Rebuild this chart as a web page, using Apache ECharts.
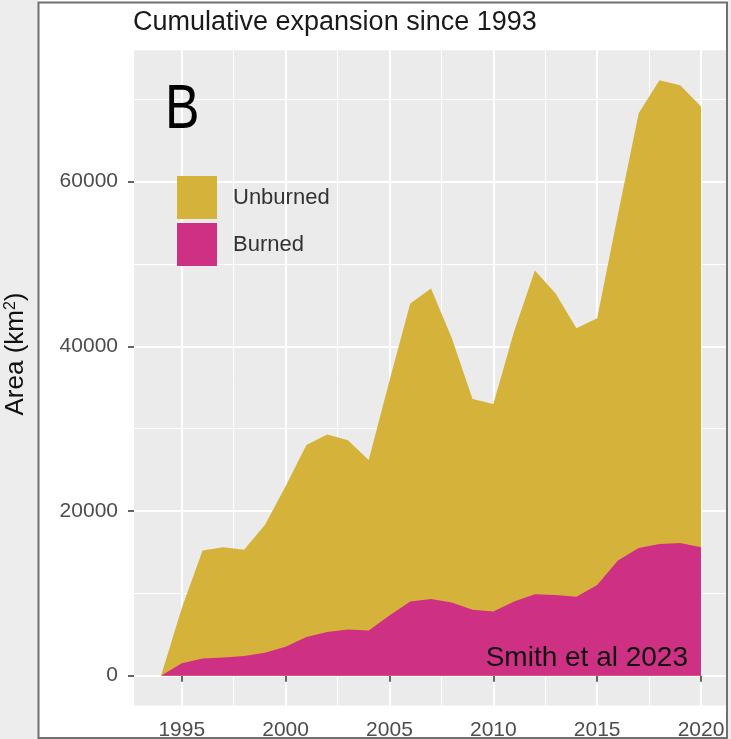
<!doctype html>
<html lang="en">
<head>
    <meta charset="UTF-8">
    <title>Cumulative expansion since 1993</title>
    <script src="https://cdn.jsdelivr.net/npm/echarts@6/dist/echarts.min.js"></script>
    <style>
        html, body { margin: 0; padding: 0; background: #ededed; }
        #main { width: 731px; height: 739px; }
    </style>
</head>
<body>

<div id="main"></div>
<script type="text/javascript">

    // values, km2
    // totalArea = top of the gold (unburned) area, burnedArea = top of the pink area
    var years = [1994, 1995, 1996, 1997, 1998, 1999, 2000, 2001, 2002, 2003, 2004, 2005, 2006, 2007,
        2008, 2009, 2010, 2011, 2012, 2013, 2014, 2015, 2016, 2017, 2018, 2019, 2020];
    var totalArea = [0, 8200, 15200, 15600, 15300, 18300, 23000, 28000, 29300, 28600, 26200, 35800, 45200, 47000,
        41000, 33600, 33000, 41800, 49200, 46400, 42200, 43400, 56000, 68300, 72300, 71700, 69100];
    var burnedArea = [0, 1500, 2100, 2200, 2400, 2800, 3500, 4700, 5300, 5600, 5500, 7300, 9000, 9300,
        8900, 8000, 7800, 9000, 9900, 9800, 9600, 11000, 14000, 15500, 16000, 16100, 15600];
    var xTicks = [1995, 2000, 2005, 2010, 2015, 2020];
    var yTicks = [0, 20000, 40000, 60000];

    var gold = '#D5B33B';
    var pink = '#CE3183';
    var font = '"Liberation Sans", Arial, sans-serif';

    function pairs(vals) {
        return years.map(function (y, i) { return [y, vals[i]]; });
    }

    var chart = echarts.init(document.getElementById('main'));

    option = {
        backgroundColor: '#ffffff',
        animation: false,
        title: {
            text: 'Cumulative expansion since 1993',
            left: 133,
            top: 9,
            padding: 0,
            textStyle: { fontFamily: font, fontSize: 27, fontWeight: 'normal', color: '#1a1a1a' }
        },
        legend: {
            orient: 'vertical',
            left: 177,
            top: 176,
            padding: 0,
            itemWidth: 40,
            itemHeight: 43,
            itemGap: 4,
            data: [{ name: 'Unburned', icon: 'rect' }, { name: 'Burned', icon: 'rect' }],
            textStyle: { fontFamily: font, fontSize: 22, color: '#333', padding: [0, 0, 0, 11] }
        },
        grid: {
            left: 134,
            right: 3,
            top: 50.2,
            bottom: 33.5,
            show: true,
            backgroundColor: '#EBEBEB',
            borderWidth: 0,
            containLabel: false,
            outerBoundsMode: 'none'
        },
        xAxis: {
            type: 'value',
            min: 1992.7,
            max: 2021.3,
            axisLine: { show: false },
            axisTick: { show: true, length: 6, customValues: xTicks, lineStyle: { color: '#333', width: 1.5 } },
            axisLabel: {
                customValues: xTicks,
                margin: 14,
                fontFamily: font,
                fontSize: 21,
                color: '#4d4d4d',
                formatter: function (v) { return v % 5 === 0 ? String(v) : ''; }
            },
            splitLine: { show: true, lineStyle: { color: '#ffffff', width: 2 } },
            minorTick: { show: false, splitNumber: 2 },
            minorSplitLine: { show: true, lineStyle: { color: '#ffffff', width: 1 } }
        },
        yAxis: {
            type: 'value',
            min: -3620,
            max: 75950,
            axisLine: { show: false },
            axisTick: { show: true, length: 6, customValues: yTicks, lineStyle: { color: '#333', width: 1.5 } },
            axisLabel: {
                customValues: yTicks,
                margin: 16,
                fontFamily: font,
                fontSize: 21,
                color: '#4d4d4d',
                formatter: function (v) { return v % 20000 === 0 ? String(v) : ''; }
            },
            splitLine: { show: true, lineStyle: { color: '#ffffff', width: 2 } },
            minorTick: { show: false, splitNumber: 2 },
            minorSplitLine: { show: true, lineStyle: { color: '#ffffff', width: 1 } }
        },
        series: [
            {
                name: 'Unburned',
                type: 'line',
                data: pairs(totalArea),
                showSymbol: false,
                silent: true,
                itemStyle: { color: gold },
                lineStyle: { width: 0, opacity: 0 },
                areaStyle: { color: gold, opacity: 1 }
            },
            {
                name: 'Burned',
                type: 'line',
                data: pairs(burnedArea),
                showSymbol: false,
                silent: true,
                itemStyle: { color: pink },
                lineStyle: { width: 0, opacity: 0 },
                areaStyle: { color: pink, opacity: 1 }
            }
        ],
        graphic: [
            { type: 'text', x: 165, y: 110.5, scaleX: 0.82, z: 100,
                style: { text: 'B', fontFamily: font, fontSize: 63, fill: '#000', verticalAlign: 'middle' } },
            { type: 'text', x: 688, y: 658, z: 100,
                style: { text: 'Smith et al 2023', fontFamily: font, fontSize: 28, fill: '#111',
                    align: 'right', verticalAlign: 'middle' } },
            // grey surround and frame of the cropped figure
            { type: 'rect', z: 100, shape: { x: 0, y: 0, width: 38, height: 739 }, style: { fill: '#ededed' } },
            { type: 'rect', z: 100, shape: { x: 728, y: 0, width: 3, height: 739 }, style: { fill: '#ededed' } },
            { type: 'rect', z: 100, shape: { x: 38.5, y: 2.5, width: 688.5, height: 735.5 },
                style: { fill: null, stroke: '#707070', lineWidth: 2 } },
            { type: 'text', x: 16, y: 354, rotation: Math.PI / 2, z: 101,
                style: {
                    text: 'Area (km{sup|2})',
                    fontFamily: font, fontSize: 26, fill: '#111',
                    align: 'center', verticalAlign: 'middle',
                    rich: { sup: { fontFamily: font, fontSize: 16, fill: '#111', verticalAlign: 'top' } }
                } }
        ]
    };

    chart.setOption(option);

</script>
</body>
</html>
